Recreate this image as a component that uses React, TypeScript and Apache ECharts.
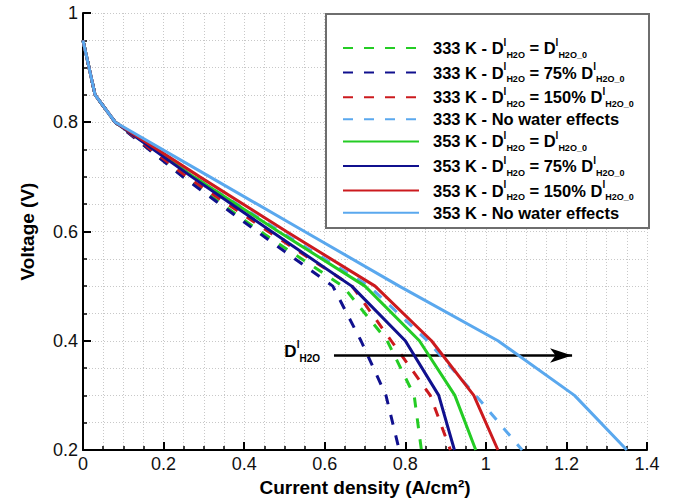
import React, { useEffect, useRef } from 'react';
import * as echarts from 'echarts';

// Cell voltage levels (V) at which current density was computed
const VOLTAGE = [0.95, 0.85, 0.8, 0.7, 0.6, 0.5, 0.4, 0.3, 0.2];

// Current density (A/cm2) for each case, one value per voltage level
const I_333_BASE = [0, 0.03, 0.08, 0.25, 0.44, 0.645, 0.755, 0.822, 0.84];
const I_333_75 = [0, 0.03, 0.08, 0.248, 0.432, 0.62, 0.69, 0.752, 0.785];
const I_333_150 = [0, 0.03, 0.08, 0.258, 0.46, 0.668, 0.765, 0.862, 0.912];
const I_333_NOWATER = [0, 0.03, 0.08, 0.275, 0.49, 0.71, 0.855, 0.975, 1.09];
const I_353_BASE = [0, 0.03, 0.08, 0.275, 0.485, 0.7, 0.835, 0.923, 0.975];
const I_353_75 = [0, 0.03, 0.08, 0.27, 0.468, 0.667, 0.8, 0.883, 0.922];
const I_353_150 = [0, 0.03, 0.08, 0.29, 0.505, 0.725, 0.865, 0.97, 1.03];
const I_353_NOWATER = [0, 0.03, 0.08, 0.315, 0.55, 0.785, 1.03, 1.22, 1.35];

const SERIES_NAMES = [
  '333 K - D_H2O = D_H2O_0',
  '333 K - D_H2O = 75% D_H2O_0',
  '333 K - D_H2O = 150% D_H2O_0',
  '333 K - No water effects',
  '353 K - D_H2O = D_H2O_0',
  '353 K - D_H2O = 75% D_H2O_0',
  '353 K - D_H2O = 150% D_H2O_0',
  '353 K - No water effects',
];

const LEGEND_TEXT = [
  '{g| }{t|333 K - D}{sup|l}{sub|H2O}{t| = D}{sup|l}{sub|H2O_0}',
  '{g| }{t|333 K - D}{sup|l}{sub|H2O}{t| = 75% D}{sup|l}{sub|H2O_0}',
  '{g| }{t|333 K - D}{sup|l}{sub|H2O}{t| = 150% D}{sup|l}{sub|H2O_0}',
  '{g| }{t|333 K - No water effects}',
  '{g| }{t|353 K - D}{sup|l}{sub|H2O}{t| = D}{sup|l}{sub|H2O_0}',
  '{g| }{t|353 K - D}{sup|l}{sub|H2O}{t| = 75% D}{sup|l}{sub|H2O_0}',
  '{g| }{t|353 K - D}{sup|l}{sub|H2O}{t| = 150% D}{sup|l}{sub|H2O_0}',
  '{g| }{t|353 K - No water effects}',
];

const SERIES_DATA = [
  I_333_BASE, I_333_75, I_333_150, I_333_NOWATER,
  I_353_BASE, I_353_75, I_353_150, I_353_NOWATER,
];

const GREEN = '#24cc24';
const NAVY = '#10108e';
const RED = '#cc1a1e';
const SKY = '#5aa8ee';
const SERIES_COLORS = [GREEN, NAVY, RED, SKY, GREEN, NAVY, RED, SKY];
const SERIES_DASHED = [true, true, true, true, false, false, false, false];

const X_TICKS = [0, 0.2, 0.4, 0.6, 0.8, 1, 1.2, 1.4];
const Y_TICKS = [0.2, 0.4, 0.6, 0.8, 1];

// Arrow showing the direction of increasing liquid water diffusivity
const ARROW_V = 0.373;
const ARROW_FROM = 0.623;
const ARROW_TO = 1.214;

const FONT = '"Liberation Sans", Arial, Helvetica, sans-serif';

const fmtTick = (v: number) => String(Math.round(v * 10) / 10);

export default function App() {
  const ref = useRef<HTMLDivElement>(null);

  useEffect(() => {
    if (!ref.current) return;
    const chart = echarts.init(ref.current, undefined, { renderer: 'svg' });

    const gridLine = { color: '#c8c8c8', width: 1, type: [1, 2] as number[] };

    const series: any[] = SERIES_NAMES.map((name, k) => ({
      name,
      type: 'line',
      data: SERIES_DATA[k].map((x, j) => [x, VOLTAGE[j]]),
      symbol: 'none',
      showSymbol: false,
      silent: true,
      z: 2 + k,
      color: SERIES_COLORS[k],
      lineStyle: {
        color: SERIES_COLORS[k],
        width: 3,
        type: SERIES_DASHED[k] ? [10, 11] : 'solid',
      },
    }));

    series[series.length - 1].markLine = {
      silent: true,
      animation: false,
      symbol: ['none', 'arrow'],
      symbolSize: [11, 22],
      lineStyle: { color: '#000', width: 2.5, type: 'solid' },
      label: {
        show: true,
        position: 'start',
        distance: 14,
        formatter: '{d|D}{sup|l}{sub|H2O}',
        padding: [0, 0, 8, 0],
        rich: {
          d: { fontFamily: FONT, fontWeight: 'bold', fontSize: 17, color: '#000', lineHeight: 24 },
          sup: { fontFamily: FONT, fontWeight: 'bold', fontSize: 10, color: '#000', lineHeight: 16, verticalAlign: 'top' },
          sub: { fontFamily: FONT, fontWeight: 'bold', fontSize: 10, color: '#000', lineHeight: 12, verticalAlign: 'bottom' },
        },
      },
      data: [[{ coord: [ARROW_FROM, ARROW_V] }, { coord: [ARROW_TO, ARROW_V] }]],
    };

    chart.setOption({
      animation: false,
      backgroundColor: '#fff',
      textStyle: { fontFamily: FONT },
      grid: { left: 83, top: 13, right: 27, bottom: 50, containLabel: false },
      xAxis: {
        type: 'value',
        min: X_TICKS[0],
        max: X_TICKS[X_TICKS.length - 1],
        interval: 0.2,
        name: 'Current density (A/cm²)',
        nameLocation: 'middle',
        nameGap: 28,
        nameTextStyle: { fontFamily: FONT, fontWeight: 'bold', fontSize: 19, color: '#000' },
        axisLine: { show: true, onZero: false, lineStyle: { color: '#000', width: 2 } },
        axisTick: { show: true, inside: true, length: 8, lineStyle: { color: '#000', width: 2 } },
        minorTick: { show: true, splitNumber: 4, length: 4, lineStyle: { color: '#000', width: 1.5 } },
        splitLine: { show: true, lineStyle: gridLine },
        minorSplitLine: { show: true, lineStyle: gridLine },
        axisLabel: { fontFamily: FONT, fontSize: 18, color: '#111', margin: 5, formatter: fmtTick, showMinLabel: true, showMaxLabel: true },
      },
      yAxis: {
        type: 'value',
        min: Y_TICKS[0],
        max: Y_TICKS[Y_TICKS.length - 1],
        interval: 0.2,
        name: 'Voltage (V)',
        nameLocation: 'middle',
        nameGap: 46,
        nameTextStyle: { fontFamily: FONT, fontWeight: 'bold', fontSize: 19, color: '#000' },
        axisLine: { show: true, onZero: false, lineStyle: { color: '#000', width: 2 } },
        axisTick: { show: true, inside: true, length: 8, lineStyle: { color: '#000', width: 2 } },
        minorTick: { show: true, splitNumber: 4, length: 4, lineStyle: { color: '#000', width: 1.5 } },
        splitLine: { show: true, lineStyle: gridLine },
        minorSplitLine: { show: true, lineStyle: gridLine },
        axisLabel: { fontFamily: FONT, fontSize: 18, color: '#111', margin: 5, formatter: fmtTick, showMinLabel: true, showMaxLabel: true },
      },
      graphic: [
        {
          type: 'rect',
          z: 20,
          shape: { x: 326, y: 14, width: 323, height: 214 },
          style: { fill: '#fff', stroke: '#6e6e6e', lineWidth: 2 },
        },
      ],
      legend: {
        show: true,
        z: 30,
        orient: 'vertical',
        left: 342,
        top: 37,
        padding: 0,
        itemGap: 2.6,
        itemWidth: 76,
        itemHeight: 14,
        selectedMode: false,
        data: SERIES_NAMES,
        itemStyle: { color: 'transparent', borderColor: 'transparent', borderWidth: 0, opacity: 0 },
        formatter: (name: string) => LEGEND_TEXT[SERIES_NAMES.indexOf(name)],
        textStyle: {
          fontFamily: FONT,
          rich: {
            g: { width: 9, fontSize: 16, lineHeight: 22 },
            t: { fontFamily: FONT, fontWeight: 'bold', fontSize: 16.5, color: '#000', lineHeight: 22 },
            sup: { fontFamily: FONT, fontWeight: 'bold', fontSize: 10, color: '#000', lineHeight: 14, verticalAlign: 'top' },
            sub: { fontFamily: FONT, fontWeight: 'bold', fontSize: 9, color: '#000', lineHeight: 12, verticalAlign: 'bottom' },
          },
        },
      },
      series,
    });

    return () => chart.dispose();
  }, []);

  return (
    <div
      ref={ref}
      style={{ position: 'fixed', left: 0, top: 0, width: 674, height: 502, background: '#fff' }}
    />
  );
}
